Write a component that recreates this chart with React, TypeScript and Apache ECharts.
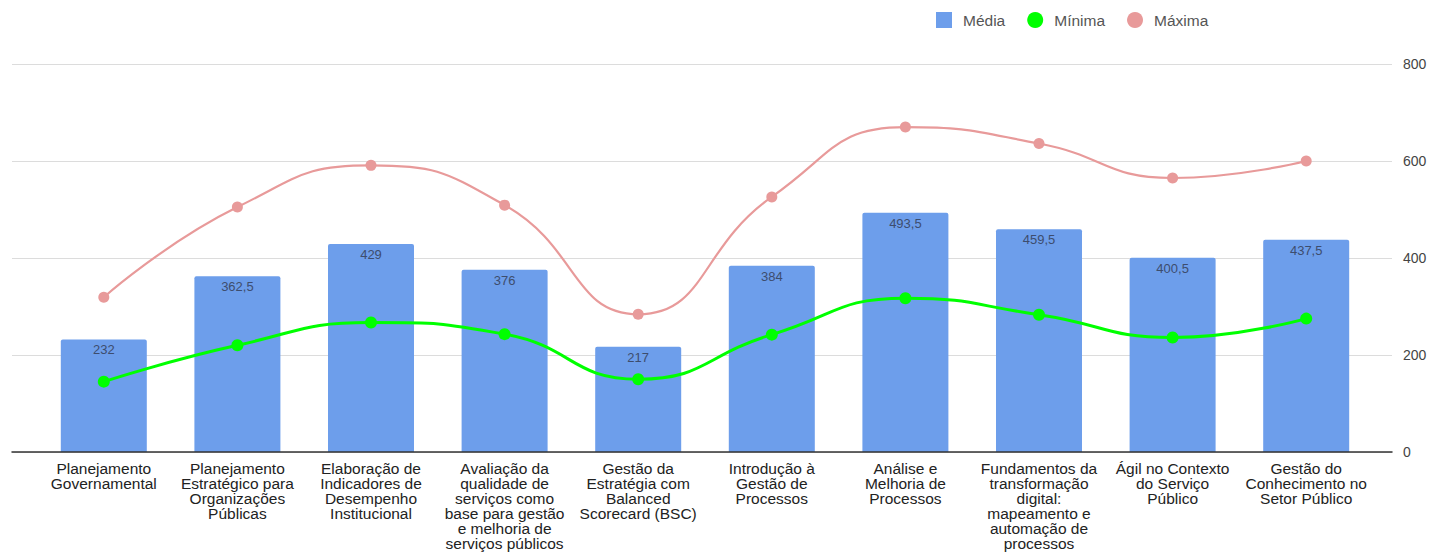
import React, { useEffect, useRef } from "react";
import * as echarts from "echarts";

// Course names (line breaks as shown under each column)
const categories: string[] = [
  "Planejamento\nGovernamental",
  "Planejamento\nEstratégico para\nOrganizações\nPúblicas",
  "Elaboração de\nIndicadores de\nDesempenho\nInstitucional",
  "Avaliação da\nqualidade de\nserviços como\nbase para gestão\ne melhoria de\nserviços públicos",
  "Gestão da\nEstratégia com\nBalanced\nScorecard (BSC)",
  "Introdução à\nGestão de\nProcessos",
  "Análise e\nMelhoria de\nProcessos",
  "Fundamentos da\ntransformação\ndigital:\nmapeamento e\nautomação de\nprocessos",
  "Ágil no Contexto\ndo Serviço\nPúblico",
  "Gestão do\nConhecimento no\nSetor Público",
];

const media: number[] = [232, 362.5, 429, 376, 217, 384, 493.5, 459.5, 400.5, 437.5];
const minima: number[] = [145, 220, 267, 243, 150, 242, 317, 283, 236, 275];
const maxima: number[] = [319, 505, 591, 509, 284, 526, 670, 636, 565, 600];

const yTicks: number[] = [0, 200, 400, 600, 800];

const FONT = "'Liberation Sans', Arial, sans-serif";
const BLUE = "#6d9eeb";
const GREEN = "#00ff00";
const PINK = "#e89a9a";

export default function App() {
  const ref = useRef<HTMLDivElement>(null);

  useEffect(() => {
    if (!ref.current) return;
    const chart = echarts.init(ref.current, undefined, { renderer: "svg" });

    const yMin = yTicks[0];
    const yMax = yTicks[yTicks.length - 1];
    const yStep = yTicks[1] - yTicks[0];

    chart.setOption({
      animation: false,
      backgroundColor: "#ffffff",
      textStyle: { fontFamily: FONT },
      legend: {
        left: 931,
        top: 7,
        itemWidth: 16,
        itemHeight: 16,
        itemGap: 22,
        textStyle: {
          fontFamily: FONT,
          fontSize: 15.5,
          color: "#555",
          padding: [0, 0, 0, 6],
        },
        data: [
          { name: "Média", icon: "rect" },
          { name: "Mínima", icon: "circle" },
          { name: "Máxima", icon: "circle" },
        ],
      },
      grid: [
        // frame grid: gridlines, baseline and value labels
        { left: 12, right: 42, top: 64, bottom: 104 },
        // data grid: bars and lines
        { left: 37, right: 61, top: 64, bottom: 104 },
      ],
      xAxis: [
        {
          gridIndex: 0,
          type: "value",
          min: 0,
          max: 1,
          z: 5,
          axisLine: { show: true, lineStyle: { color: "#333", width: 1.5 } },
          axisTick: { show: false },
          axisLabel: { show: false },
          splitLine: { show: false },
        },
        {
          gridIndex: 1,
          type: "category",
          data: categories,
          axisLine: { show: false },
          axisTick: { show: false },
          axisLabel: {
            interval: 0,
            margin: 9,
            fontFamily: FONT,
            fontSize: 15.5,
            lineHeight: 15,
            color: "#222",
            align: "center",
          },
        },
      ],
      yAxis: [
        {
          gridIndex: 0,
          type: "value",
          position: "right",
          min: yMin,
          max: yMax,
          interval: yStep,
          axisLine: { show: false },
          axisTick: { show: false },
          axisLabel: {
            margin: 11,
            fontFamily: FONT,
            fontSize: 14,
            color: "#444",
          },
          splitLine: { show: true, lineStyle: { color: "#dcdcdc", width: 1 } },
        },
        {
          gridIndex: 1,
          type: "value",
          min: yMin,
          max: yMax,
          interval: yStep,
          show: false,
          splitLine: { show: false },
        },
      ],
      series: [
        {
          name: "Média",
          type: "bar",
          xAxisIndex: 1,
          yAxisIndex: 1,
          data: media,
          barWidth: 86,
          itemStyle: { color: BLUE, borderRadius: [2, 2, 0, 0] },
          label: {
            show: true,
            position: "insideTop",
            distance: 4,
            fontFamily: FONT,
            fontSize: 13,
            color: "#3d4d6e",
            formatter: (p: any) => String(p.value).replace(".", ","),
          },
          z: 2,
        },
        {
          name: "Mínima",
          type: "line",
          xAxisIndex: 1,
          yAxisIndex: 1,
          data: minima,
          smooth: true,
          symbol: "circle",
          symbolSize: 12,
          itemStyle: { color: GREEN },
          lineStyle: { color: GREEN, width: 3 },
          z: 4,
        },
        {
          name: "Máxima",
          type: "line",
          xAxisIndex: 1,
          yAxisIndex: 1,
          data: maxima,
          smooth: true,
          symbol: "circle",
          symbolSize: 11,
          itemStyle: { color: PINK },
          lineStyle: { color: PINK, width: 2.2 },
          z: 3,
        },
      ],
    });

    return () => chart.dispose();
  }, []);

  return (
    <div
      ref={ref}
      style={{ position: "fixed", left: 0, top: 0, width: 1434, height: 556, background: "#fff" }}
    />
  );
}
